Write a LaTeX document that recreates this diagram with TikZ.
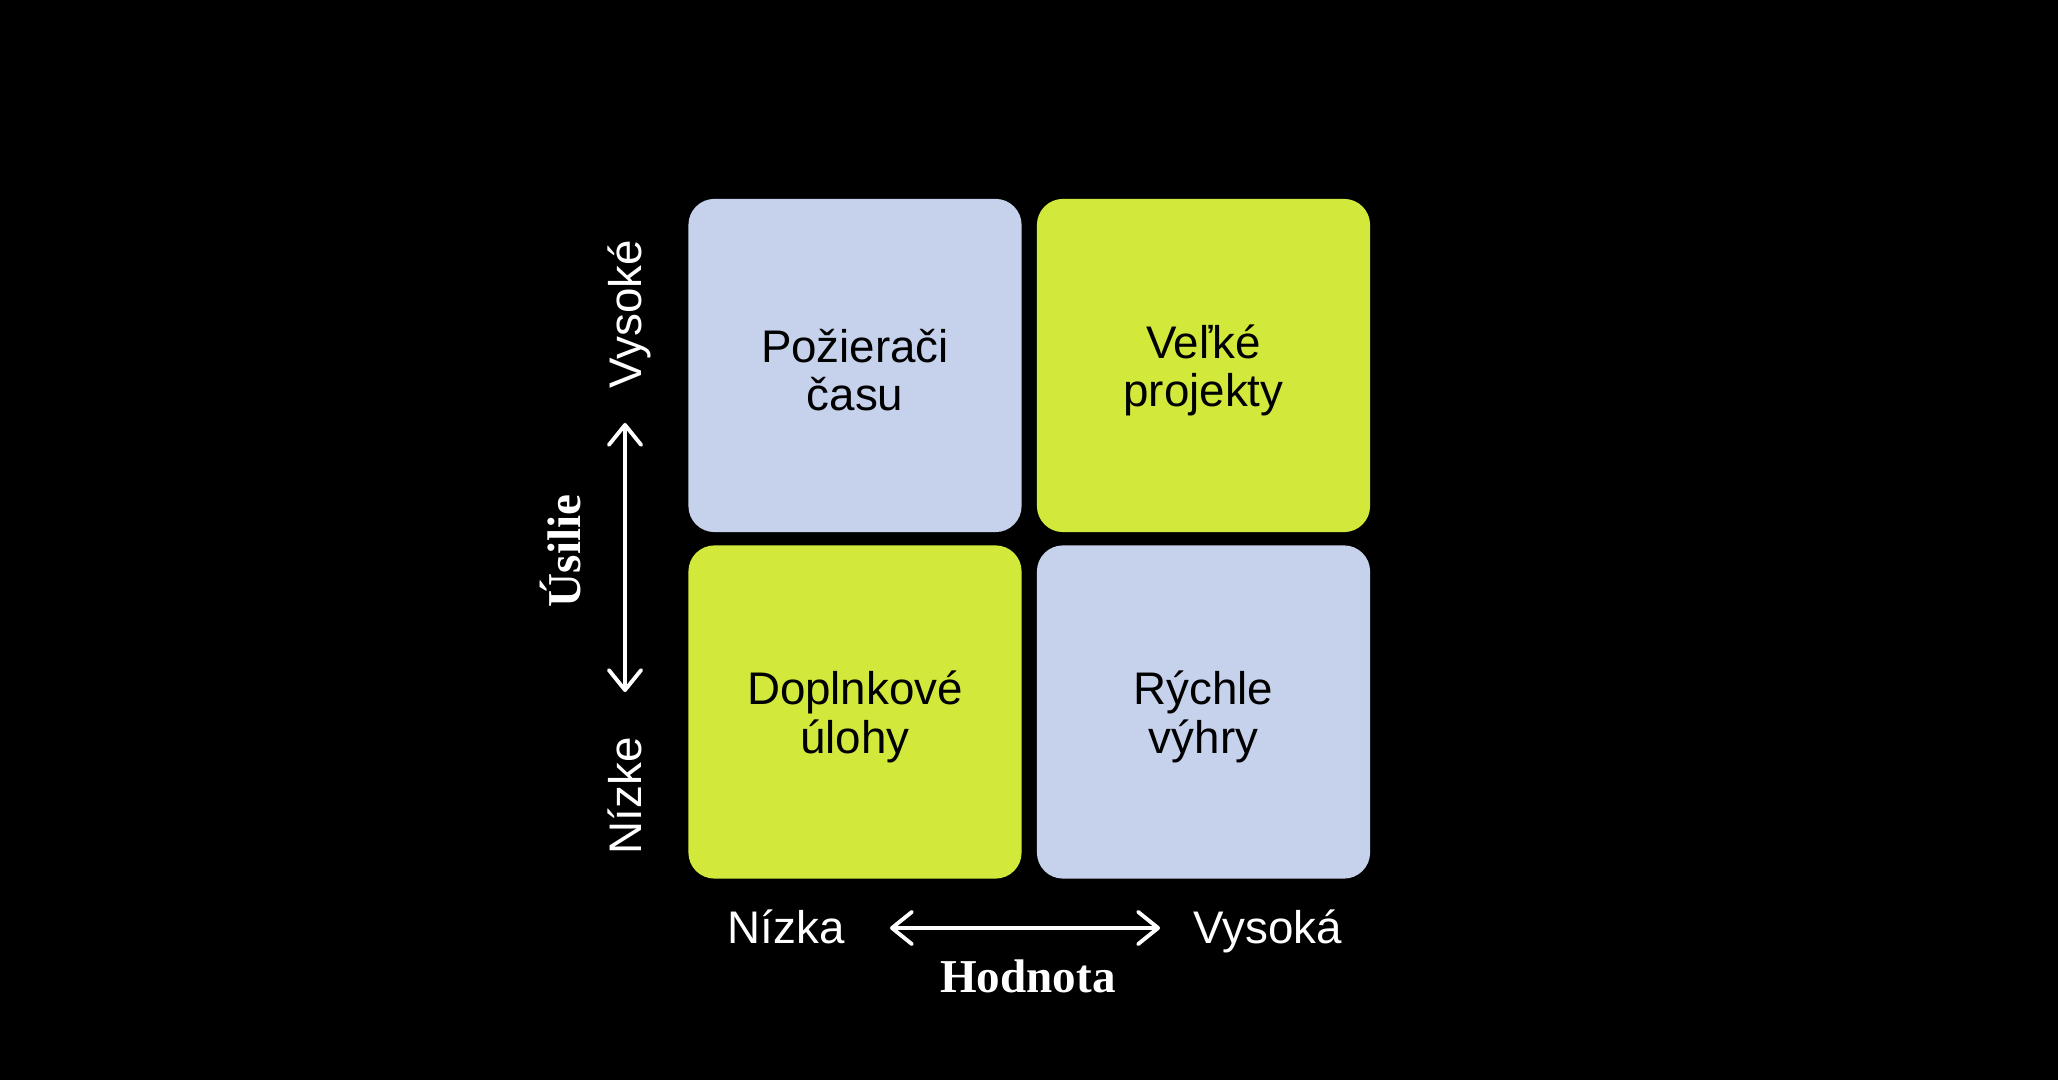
\documentclass[tikz,border=0pt]{standalone}
\usepackage{fontspec}
\setmainfont{Liberation Sans}
\newfontfamily\headfont{Liberation Serif}
\usepackage{xcolor}
\usetikzlibrary{arrows.meta}

\definecolor{quadblue}{HTML}{C6D2EC}
\definecolor{quadlime}{HTML}{D2E83A}

\begin{document}
\begin{tikzpicture}[x=0.01cm,y=-0.01cm]
	%\draw[help lines] (0,0) grid (2058,1080);
	
	\tikzstyle{qbox} = [rectangle,rounded corners=7.4pt,minimum width=3.33cm,minimum height=3.33cm,inner sep=0pt]
	\tikzstyle{qtext} = [align=center,text=black,inner sep=0pt,yshift=-1.4pt,font=\fontsize{13}{13.7}\selectfont]
	\tikzstyle{alabel} = [text=white,inner sep=0pt,anchor=base,font=\fontsize{13}{13.7}\selectfont]
	\tikzstyle{atitle} = [text=white,inner sep=0pt,anchor=base,font=\headfont\bfseries\fontsize{13.4}{14}\selectfont]
	\tikzstyle{aedge} = [{Straight Barb[length=5.7pt,width=9.2pt,round]}-{Straight Barb[length=5.7pt,width=9.2pt,round]},white,line width=1.1pt]
	
	\fill[black] (0,0) rectangle (2058,1080);
	
	\node[qbox,fill=quadblue,label={[qtext]center:Požierači\\času}] (tl) at (855,365.5) {};
	\node[qbox,fill=quadlime,label={[qtext]center:Veľké\\projekty}] (tr) at (1203.5,365.5) {};
	\node[qbox,fill=quadlime,label={[qtext]center:Doplnkové\\úlohy}] (bl) at (855,712) {};
	\node[qbox,fill=quadblue,label={[qtext]center:Rýchle\\výhry}] (br) at (1203.5,712) {};
	
	\node[alabel,rotate=90] (vysoke) at (641,314) {Vysoké};
	\node[alabel,rotate=90] (nizke) at (641,796) {Nízke};
	\node[atitle,rotate=90] (usilie) at (580,551) {Úsilie};
	
	\node[alabel] (nizka) at (786,943) {Nízka};
	\node[alabel] (vysoka) at (1268,943) {Vysoká};
	\node[atitle] (hodnota) at (1028,992) {Hodnota};
	
	\coordinate (ytop) at (625,423);
	\coordinate (ybot) at (625,692);
	\coordinate (xleft) at (890,928);
	\coordinate (xright) at (1160,928);
	
	\draw (ybot) edge [aedge] (ytop);
	\draw (xleft) edge [aedge] (xright);

\end{tikzpicture}
\end{document}
